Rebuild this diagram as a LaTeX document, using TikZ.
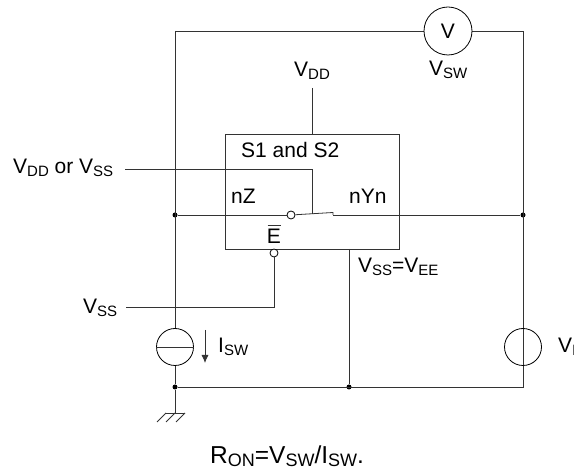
\documentclass[tikz,border=0pt]{standalone}
\usepackage{fontspec}
\setmainfont{Liberation Sans}
\usetikzlibrary{arrows.meta}
\newcommand{\subtxt}[1]{\raisebox{-2.2pt}{\fontsize{15}{15}\selectfont #1}}
\tikzset{
  wire/.style={line width=0.8pt,black!80},
  lbl/.style={font=\fontsize{21}{23}\selectfont,inner sep=0pt,anchor=base west},
  junction/.style={circle,fill=black,inner sep=0pt,minimum size=5pt},
  source/.style={circle,draw,line width=0.8pt,fill=white,inner sep=0pt,minimum size=37pt},
  pin/.style={circle,draw,line width=0.8pt,fill=white,inner sep=0pt,minimum size=8pt}
}
\begin{document}
\begin{tikzpicture}[x=1pt,y=-1pt]
    \useasboundingbox (0,0) rectangle (574,470);

    % Corners and junctions of the outer loop
    \coordinate (topleft) at (175,31);
    \coordinate (topright) at (523,31);
    \node[junction] (leftjoin) at (175,215) {};
    \node[junction] (rightjoin) at (523,215) {};
    \node[junction] (groundjoin) at (175,387) {};
    \node[junction] (eejoin) at (349,387) {};
    \coordinate (botright) at (523,387);

    % Outer loop and sources
    \draw[wire] (topleft) -- (groundjoin) -- (botright) -- (topright) -- (topleft);
    \node[source,minimum size=48pt] (meter) at (448,31) {};
    \node[lbl,anchor=center] (meterlbl) at (meter) {V};
    \node[lbl] (vsw) at (429,76) {V\subtxt{SW}};
    \node[source] (isource) at (175,347) {};
    \draw[wire] (isource.west) -- (isource.east);
    \node[source,fill=none] (vsource) at (523,347) {};
    \node[lbl] (vi) at (558,353) {V\subtxt{I}};

    % Switch block
    \draw[wire] (225,134) rectangle (399,249);
    \node[lbl] (blockname) at (241,158) {S1 and S2};
    \node[lbl] (nz) at (231,204) {nZ};
    \node[lbl] (nyn) at (349,204) {nYn};
    \node[lbl,anchor=base] (enable) at (274,244) {E};
    \draw[wire] (267.5,225) -- (280.5,225);
    \node[pin] (swpin) at (291,215) {};
    \node[pin] (enpin) at (274,253) {};
    \coordinate (swtip) at (333,212.5);
    \coordinate (swout) at (333,215);
    \draw[wire] (leftjoin) -- (swpin);
    \draw[wire] (swpin) -- (swtip) -- (swout);
    \draw[wire] (swout) -- (rightjoin);

    % Control inputs
    \node[lbl] (vddtop) at (294,77) {V\subtxt{DD}};
    \draw[wire] (312,88) -- (312,134);
    \node[lbl] (vddss) at (13,174) {V\subtxt{DD} or V\subtxt{SS}};
    \coordinate (ctrl) at (312,169);
    \coordinate (ctrlend) at (312,214);
    \draw[wire] (125,169) -- (ctrl) -- (ctrlend);
    \node[lbl] (vsslbl) at (83,314) {V\subtxt{SS}};
    \coordinate (enbend) at (274,307);
    \draw[wire] (126,307) -- (enbend) -- (enpin);
    \draw[wire] (349,249) -- (eejoin);
    \node[lbl] (vssee) at (358,273) {V\subtxt{SS}=V\subtxt{EE}};

    % Current arrow
    \draw[wire,-{Latex[length=8pt,width=7pt]}] (205,330) -- (205,363);
    \node[lbl] (isw) at (218,353) {I\subtxt{SW}};

    % Ground
    \draw[wire] (groundjoin) -- (175,413);
    \draw[wire] (166,413) -- (185,413);
    \foreach \gx in {166,175,185} {
      \draw[wire] (\gx,413) -- ++(-9,9);
    }

    % Formula
    \node[lbl,font=\fontsize{24.5}{26}\selectfont] (ron) at (210,464)
      {R\raisebox{-2.2pt}{\fontsize{18}{18}\selectfont ON}=V\raisebox{-2.2pt}{\fontsize{18}{18}\selectfont SW}/I\raisebox{-2.2pt}{\fontsize{18}{18}\selectfont SW}.};
\end{tikzpicture}
\end{document}
